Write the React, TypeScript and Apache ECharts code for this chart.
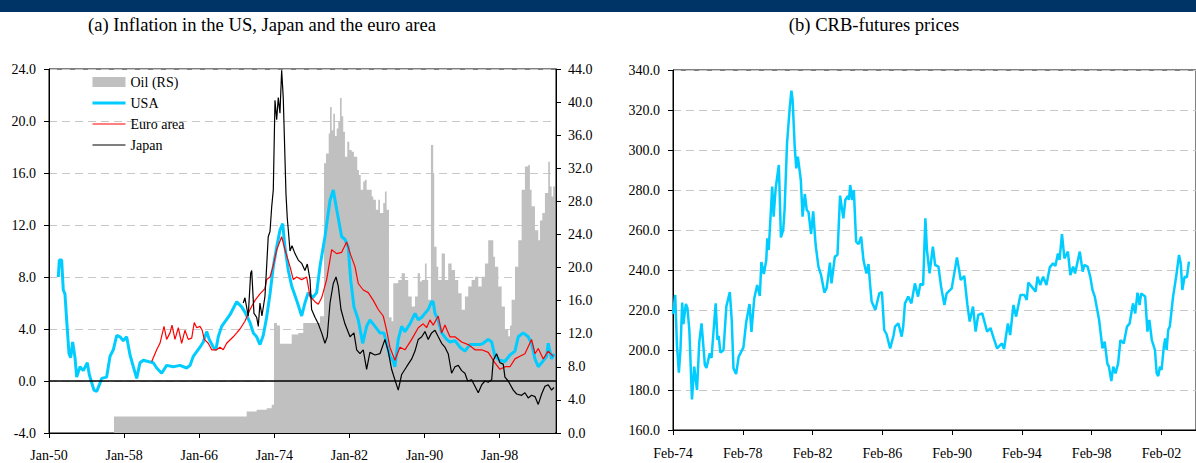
import React, { useEffect, useRef } from 'react';
import * as echarts from 'echarts';

const FONT = 'Liberation Serif';

// [decimal year, oil price] (right scale)
const oilPoints: [number, number][] = [
  [1956.92, 2.0], [1969.6, 2.0], [1971.05, 2.6], [1972.12, 2.8], [1973.18, 3.0], [1973.72, 3.4],
  [1973.96, 13.3], [1974.28, 13.0], [1974.6, 10.8], [1975.45, 10.8], [1975.85, 11.9], [1976.55, 12.1],
  [1977.08, 13.3], [1978.01, 13.3], [1978.86, 14.1], [1979.29, 32.6], [1979.5, 33.8], [1979.79, 36.2],
  [1979.93, 39.4], [1980.11, 36.6], [1980.28, 38.6], [1980.46, 35.9], [1980.64, 36.8], [1980.81, 37.6],
  [1980.99, 40.5], [1981.17, 38.3], [1981.34, 36.4], [1981.52, 33.4], [1981.77, 35.2], [1981.98, 34.2],
  [1982.24, 34.0], [1982.48, 33.4], [1982.83, 31.8], [1983.01, 31.2], [1983.2, 29.4], [1983.47, 30.4],
  [1983.65, 30.6], [1983.83, 29.4], [1984.11, 29.4], [1984.37, 28.6], [1984.54, 28.2], [1984.82, 27.0],
  [1985.07, 28.2], [1985.25, 26.6], [1985.6, 27.8], [1985.78, 29.2], [1985.96, 27.0], [1986.21, 14.0],
  [1986.49, 13.5], [1986.67, 18.1], [1987.03, 18.1], [1987.2, 18.5], [1987.56, 19.3], [1987.91, 18.5],
  [1988.26, 16.5], [1988.63, 15.3], [1988.98, 16.5], [1989.27, 19.3], [1989.51, 18.3], [1989.7, 18.5],
  [1990.04, 20.5], [1990.22, 18.5], [1990.39, 16.1], [1990.68, 34.8], [1990.82, 34.8], [1990.92, 31.4],
  [1991.03, 22.5], [1991.28, 20.1], [1991.46, 18.5], [1991.82, 21.7], [1992.17, 18.5], [1992.52, 20.5],
  [1992.88, 19.7], [1993.24, 18.5], [1993.59, 16.9], [1993.95, 14.9], [1994.3, 16.5], [1994.65, 17.7],
  [1995.01, 18.5], [1995.37, 18.9], [1995.72, 17.7], [1996.08, 18.9], [1996.43, 20.5], [1996.78, 23.3],
  [1997.07, 23.3], [1997.32, 21.3], [1997.5, 20.1], [1997.85, 17.7], [1998.21, 15.3], [1998.56, 12.5],
  [1998.91, 11.7], [1999.1, 13.0], [1999.27, 16.1], [1999.63, 20.1], [1999.98, 23.3], [2000.34, 29.4],
  [2000.69, 32.2], [2001.04, 32.4], [2001.22, 29.4], [2001.4, 27.4], [2001.76, 24.5], [2002.11, 23.3],
  [2002.29, 25.7], [2002.54, 26.6], [2002.82, 29.0], [2003.17, 32.8], [2003.35, 29.8], [2003.53, 28.6],
  [2003.7, 29.8], [2003.89, 28.6],
];

// [decimal year, inflation %]
const usaPoints: [number, number][] = [
  [1950.99, 8.0], [1951.1, 9.3], [1951.35, 9.3], [1951.52, 7.0], [1951.7, 6.7], [1951.88, 4.7],
  [1952.13, 2.1], [1952.31, 1.8], [1952.52, 3.0], [1952.77, 1.8], [1952.95, 0.3], [1953.3, 1.1],
  [1953.65, 0.8], [1954.08, 1.4], [1954.29, 0.5], [1954.79, -0.7], [1955.08, -0.8], [1955.36, -0.3],
  [1955.61, 0.2], [1956.14, 0.3], [1956.5, 1.9], [1956.85, 2.4], [1957.21, 3.5], [1957.56, 3.4],
  [1957.91, 3.1], [1958.27, 3.4], [1958.63, 2.0], [1958.98, 1.1], [1959.34, 0.2], [1959.69, 1.4],
  [1960.04, 1.6], [1960.57, 1.5], [1961.11, 1.4], [1961.47, 1.0], [1962.0, 0.6], [1962.53, 1.2],
  [1963.24, 1.1], [1963.95, 1.2], [1964.66, 1.0], [1965.02, 1.2], [1965.37, 1.9], [1966.08, 2.6],
  [1966.43, 3.0], [1966.79, 3.8], [1967.07, 3.2], [1967.5, 2.6], [1967.78, 2.4], [1968.03, 3.4],
  [1968.39, 4.2], [1969.28, 5.1], [1969.99, 6.1], [1970.52, 5.7], [1970.87, 5.3], [1971.41, 4.5],
  [1971.76, 3.7], [1972.12, 3.4], [1972.47, 2.8], [1972.82, 3.5], [1973.18, 4.9], [1973.54, 6.7],
  [1973.89, 8.8], [1974.25, 10.3], [1974.6, 11.6], [1974.89, 12.1], [1975.13, 10.3], [1975.49, 8.5],
  [1975.85, 7.3], [1976.38, 6.2], [1976.91, 5.0], [1977.26, 6.0], [1977.61, 6.8], [1978.08, 6.4],
  [1978.51, 6.8], [1978.86, 8.8], [1979.39, 11.1], [1979.93, 13.9], [1980.28, 14.7], [1980.64, 13.2],
  [1981.17, 11.1], [1981.52, 10.9], [1981.87, 10.3], [1982.13, 7.8], [1982.48, 5.7], [1982.94, 4.7],
  [1983.41, 2.9], [1983.83, 4.2], [1984.18, 4.7], [1984.72, 4.2], [1985.25, 3.7], [1985.67, 3.7],
  [1985.96, 2.9], [1986.31, 1.9], [1986.67, 1.5], [1986.84, 1.1], [1987.2, 3.2], [1987.56, 4.2],
  [1987.91, 3.8], [1988.45, 4.4], [1988.98, 5.2], [1989.33, 4.7], [1989.7, 4.9], [1990.04, 5.2],
  [1990.39, 5.5], [1990.75, 6.1], [1990.92, 6.1], [1991.11, 5.2], [1991.39, 4.8], [1991.82, 3.7],
  [1992.35, 3.2], [1992.7, 3.0], [1993.24, 3.1], [1993.77, 2.6], [1994.3, 2.3], [1994.84, 2.8],
  [1995.37, 2.8], [1995.9, 2.8], [1996.25, 2.9], [1996.78, 3.2], [1997.15, 3.0], [1997.5, 1.9],
  [1998.03, 1.6], [1998.56, 1.5], [1999.1, 2.0], [1999.63, 2.3], [1999.98, 3.4], [2000.51, 3.7],
  [2001.04, 3.4], [2001.4, 2.9], [2001.76, 1.7], [2002.11, 1.1], [2002.47, 1.4], [2003.0, 1.9],
  [2003.17, 2.9], [2003.53, 1.7], [2003.81, 2.1],
];

const euroPoints: [number, number][] = [
  [1960.94, 1.5], [1961.47, 2.4], [1961.82, 2.9], [1962.25, 4.2], [1962.53, 3.2], [1962.89, 3.7],
  [1963.1, 4.3], [1963.42, 3.2], [1963.77, 4.1], [1964.13, 2.9], [1964.48, 3.9], [1964.83, 3.2],
  [1965.2, 3.3], [1965.47, 4.5], [1965.73, 4.1], [1966.08, 4.2], [1966.32, 3.9], [1966.54, 3.2],
  [1966.96, 2.9], [1967.33, 2.4], [1967.86, 2.4], [1968.21, 2.6], [1968.56, 2.4], [1968.92, 2.9],
  [1969.63, 3.4], [1969.99, 3.7], [1970.34, 4.0], [1970.87, 4.6], [1971.41, 5.5], [1971.94, 6.2],
  [1972.47, 6.7], [1973.0, 7.1], [1973.18, 7.8], [1973.54, 8.0], [1973.89, 8.9], [1974.25, 10.1],
  [1974.78, 11.1], [1975.13, 10.1], [1975.67, 8.8], [1976.02, 7.8], [1976.38, 8.0], [1976.91, 7.8],
  [1977.44, 8.0], [1977.8, 6.5], [1978.33, 6.1], [1978.68, 5.9], [1979.04, 6.4], [1979.57, 7.8],
  [1980.11, 10.1], [1980.64, 9.8], [1981.17, 9.9], [1981.7, 10.7], [1982.13, 9.7], [1982.59, 8.8],
  [1982.94, 7.5], [1983.47, 7.0], [1984.0, 6.8], [1984.54, 6.2], [1985.07, 5.5], [1985.6, 5.0],
  [1985.96, 3.9], [1986.31, 2.6], [1986.84, 1.6], [1987.38, 2.6], [1987.91, 2.4], [1988.63, 3.2],
  [1989.33, 4.1], [1989.86, 4.4], [1990.22, 4.1], [1990.57, 4.7], [1990.92, 4.3], [1991.46, 5.0],
  [1991.82, 3.7], [1992.17, 4.3], [1992.7, 3.4], [1993.24, 3.4], [1993.95, 3.0], [1994.65, 2.8],
  [1995.37, 2.4], [1996.08, 2.4], [1996.78, 2.2], [1997.5, 1.4], [1998.03, 0.9], [1998.56, 1.1],
  [1999.1, 1.1], [1999.63, 1.7], [2000.16, 1.9], [2000.69, 2.1], [2001.4, 3.2], [2001.76, 2.1],
  [2002.11, 2.5], [2002.64, 1.7], [2003.17, 2.3], [2003.7, 1.9],
];

const japanPoints: [number, number][] = [
  [1970.69, 6.0], [1970.87, 6.4], [1971.22, 5.0], [1971.48, 8.3], [1971.59, 8.5], [1971.83, 5.2],
  [1972.12, 4.9], [1972.29, 4.2], [1972.47, 6.0], [1972.68, 5.0], [1973.0, 6.5], [1973.18, 8.8],
  [1973.35, 11.1], [1973.54, 11.5], [1973.72, 13.4], [1973.89, 14.7], [1974.07, 21.6], [1974.25, 20.1],
  [1974.42, 21.8], [1974.6, 20.6], [1974.78, 23.9], [1974.95, 21.8], [1975.24, 14.4], [1975.38, 12.5],
  [1975.49, 11.6], [1975.67, 10.0], [1975.88, 10.4], [1976.2, 9.8], [1976.55, 9.3], [1976.91, 9.05],
  [1977.26, 8.5], [1977.51, 9.0], [1977.8, 7.8], [1977.97, 5.5], [1978.33, 4.9], [1978.68, 4.4],
  [1979.04, 3.7], [1979.39, 2.9], [1979.64, 3.4], [1979.93, 6.0], [1980.28, 7.5], [1980.57, 8.0],
  [1980.81, 7.3], [1981.1, 5.5], [1981.52, 4.4], [1982.06, 3.4], [1982.48, 3.7], [1982.77, 2.4],
  [1983.12, 2.1], [1983.47, 2.4], [1983.83, 0.9], [1984.18, 2.2], [1984.72, 2.0], [1985.25, 2.1],
  [1985.78, 3.2], [1986.13, 2.3], [1986.49, 0.9], [1986.84, 0.1], [1987.2, -0.7], [1987.56, 0.5],
  [1988.09, 1.1], [1988.63, 1.7], [1988.98, 2.3], [1989.33, 3.2], [1989.7, 3.4], [1990.04, 3.8],
  [1990.39, 3.2], [1990.75, 3.7], [1991.11, 3.9], [1991.46, 3.4], [1991.82, 2.9], [1992.17, 2.6],
  [1992.52, 2.1], [1992.88, 0.6], [1993.24, 1.1], [1993.59, 1.2], [1993.95, 0.8], [1994.3, 0.6],
  [1994.59, 0.0], [1995.01, 0.1], [1995.37, -0.4], [1995.72, -0.9], [1996.08, -0.3], [1996.43, 0.0],
  [1996.78, -0.1], [1997.15, 0.1], [1997.32, 1.6], [1997.67, 2.1], [1998.03, 1.4], [1998.38, 1.3],
  [1998.56, 0.3], [1998.91, 0.0], [1999.45, -0.7], [1999.81, -1.0], [2000.34, -1.1], [2000.69, -0.9],
  [2001.04, -1.3], [2001.4, -1.1], [2001.76, -1.2], [2002.11, -1.8], [2002.47, -1.0], [2002.82, -0.4],
  [2003.17, -0.3], [2003.53, -0.7], [2003.78, -0.5],
];

// [decimal year, CRB futures index]
const crbPoints: [number, number][] = [
  [1974.08, 218], [1974.21, 227.5], [1974.31, 202.5], [1974.42, 188.7], [1974.51, 200], [1974.61, 223.7],
  [1974.68, 213], [1974.82, 223], [1974.91, 221], [1975.02, 210], [1975.17, 175.3], [1975.3, 191.7],
  [1975.46, 180], [1975.59, 204], [1975.72, 213.3], [1975.91, 192.5], [1976.0, 191], [1976.19, 198.3],
  [1976.29, 196], [1976.53, 223.3], [1976.63, 205], [1976.7, 207], [1976.8, 198.7], [1976.98, 200],
  [1977.14, 221.7], [1977.34, 229], [1977.45, 215], [1977.55, 190.8], [1977.7, 188], [1977.85, 196.7],
  [1978.12, 201.3], [1978.28, 214], [1978.47, 223], [1978.58, 209], [1978.74, 225.8], [1978.91, 232.5],
  [1979.06, 227], [1979.15, 244], [1979.29, 238], [1979.43, 245], [1979.49, 255.8], [1979.57, 250],
  [1979.77, 281.7], [1979.85, 266.7], [1979.97, 281], [1980.15, 292.5], [1980.27, 256.3], [1980.4, 260],
  [1980.48, 270], [1980.62, 303.3], [1980.78, 321.7], [1980.87, 329.7], [1980.94, 325], [1981.06, 301.7],
  [1981.15, 290.8], [1981.24, 296.7], [1981.41, 285], [1981.51, 266.7], [1981.64, 278], [1981.75, 270],
  [1981.85, 269], [1982.0, 258], [1982.12, 269.3], [1982.26, 252.5], [1982.42, 241.7], [1982.57, 237.5],
  [1982.76, 228.7], [1982.89, 231], [1982.98, 236.7], [1983.08, 243.7], [1983.17, 233.3], [1983.36, 246.7],
  [1983.51, 247.5], [1983.66, 277.2], [1983.85, 265.8], [1983.96, 275], [1984.11, 277], [1984.17, 275],
  [1984.24, 282.5], [1984.36, 275], [1984.45, 280], [1984.58, 254.2], [1984.72, 253], [1984.87, 256.7],
  [1985.0, 245], [1985.17, 238.3], [1985.29, 243], [1985.38, 233], [1985.47, 224.2], [1985.68, 220],
  [1985.91, 228.3], [1986.06, 229], [1986.19, 210], [1986.32, 208], [1986.53, 200.8], [1986.72, 207],
  [1986.81, 211.7], [1987.0, 213.3], [1987.1, 210], [1987.19, 206.7], [1987.28, 211.7], [1987.38, 223.3],
  [1987.57, 226.7], [1987.75, 223.3], [1987.95, 233.3], [1988.13, 226.7], [1988.26, 233], [1988.42, 232.5],
  [1988.55, 265.8], [1988.64, 250], [1988.79, 238.3], [1988.98, 251.7], [1989.11, 242.5], [1989.3, 241.7],
  [1989.45, 231.7], [1989.64, 222.5], [1989.77, 228.3], [1990.06, 230.8], [1990.36, 246.3], [1990.58, 235],
  [1990.78, 237], [1990.96, 222.5], [1991.09, 214.2], [1991.28, 221.7], [1991.43, 209.2], [1991.58, 217.5],
  [1991.81, 218.3], [1992.09, 209.2], [1992.28, 211], [1992.47, 205.8], [1992.66, 200.8], [1992.94, 203.3],
  [1993.06, 200.5], [1993.28, 213.3], [1993.41, 207.5], [1993.6, 222.5], [1993.75, 216.7], [1994.0, 227.5],
  [1994.23, 227.5], [1994.36, 225], [1994.45, 233.7], [1994.64, 231.7], [1994.87, 229.2], [1994.98, 236.7],
  [1995.13, 232.5], [1995.3, 236.7], [1995.49, 232.5], [1995.68, 241.3], [1995.87, 243.3], [1996.0, 242],
  [1996.15, 248.3], [1996.24, 245], [1996.38, 258], [1996.52, 245.8], [1996.72, 249.2], [1996.86, 237.5],
  [1997.02, 241.7], [1997.13, 238.3], [1997.4, 249.2], [1997.57, 239.2], [1997.66, 242.5], [1997.85, 241.7],
  [1998.0, 236.7], [1998.13, 230], [1998.26, 226.7], [1998.51, 215], [1998.7, 200.8], [1998.83, 204.2],
  [1998.98, 193.3], [1999.07, 191.7], [1999.21, 184.5], [1999.32, 191.7], [1999.45, 188.3], [1999.6, 193.3],
  [1999.73, 205], [1999.92, 203.3], [2000.11, 211.7], [2000.26, 213.3], [2000.45, 223.3], [2000.58, 218.3],
  [2000.71, 228.7], [2000.83, 222.5], [2000.92, 228.3], [2001.15, 226.7], [2001.28, 209.2], [2001.39, 215],
  [2001.53, 205], [2001.71, 200], [2001.81, 188.3], [2001.9, 187], [2002.0, 191.7], [2002.09, 190],
  [2002.22, 201.7], [2002.3, 205.8], [2002.38, 200], [2002.47, 210], [2002.56, 211.7], [2002.75, 226.7],
  [2002.94, 237.5], [2003.09, 247.5], [2003.19, 243.3], [2003.28, 230], [2003.41, 236.7], [2003.54, 236.3],
  [2003.66, 244.2],
];

const leftTickOffsets = [0, 8, 16, 24, 32, 40, 48]; // years after Jan-50
const rightTickOffsets = [0, 4, 8, 12, 16, 20, 24, 28]; // years after Feb-74

const LEFT_ORIGIN = 1950;
const RIGHT_ORIGIN = 1974 + 1 / 12;

const titleA = '(a) Inflation in the US, Japan and the euro area';
const titleB = '(b) CRB-futures prices';

export default function App() {
  const ref = useRef<HTMLDivElement>(null);

  useEffect(() => {
    if (!ref.current) return;
    const chart = echarts.init(ref.current, null, { renderer: 'svg' });
    const pad = (n: number) => String(((n % 100) + 100) % 100).padStart(2, '0');
    const toLeft = (p: [number, number]) => [p[0] - LEFT_ORIGIN, p[1]];
    const toRight = (p: [number, number]) => [p[0] - RIGHT_ORIGIN, p[1]];
    const labelStyle = { color: '#000', fontSize: 14, fontFamily: FONT };
    const axisLineStyle = { color: '#000', width: 1 };
    const hiddenSymbol = { opacity: 0 };

    const option: any = {
      animation: false,
      backgroundColor: '#fff',
      textStyle: { fontFamily: FONT },
      graphic: [
        { type: 'rect', silent: true, shape: { x: 0, y: 0, width: 1196, height: 12 }, style: { fill: '#003366' } },
        {
          type: 'text', silent: true, x: 262, y: 24,
          style: { text: titleA, fill: '#000', fontSize: 18.6, fontFamily: FONT, align: 'center', verticalAlign: 'middle' },
        },
        {
          type: 'text', silent: true, x: 874, y: 24,
          style: { text: titleB, fill: '#000', fontSize: 18.6, fontFamily: FONT, align: 'center', verticalAlign: 'middle' },
        },
      ],
      legend: {
        left: 91, top: 75, orient: 'vertical', padding: 0,
        itemWidth: 33, itemHeight: 10, itemGap: 7,
        textStyle: { color: '#000', fontSize: 14, fontFamily: FONT },
        selectedMode: false,
        data: [
          { name: 'Oil (RS)', icon: 'rect' },
          { name: 'USA', itemStyle: hiddenSymbol, lineStyle: { width: 3 } },
          { name: 'Euro area', itemStyle: hiddenSymbol, lineStyle: { width: 1.2 } },
          { name: 'Japan', itemStyle: hiddenSymbol, lineStyle: { width: 1.2 } },
        ],
      },
      grid: [
        { left: 49, top: 69, width: 507, height: 364, show: true, borderColor: '#000', borderWidth: 1, backgroundColor: 'transparent' },
        { left: 673, top: 70, width: 532, height: 360, show: true, borderColor: '#000', borderWidth: 1, backgroundColor: 'transparent' },
      ],
      xAxis: [
        {
          gridIndex: 0, type: 'value', min: 0, max: 54, interval: 8,
          axisLine: { onZero: false, lineStyle: axisLineStyle },
          axisTick: { length: 5, lineStyle: axisLineStyle, customValues: leftTickOffsets },
          axisLabel: { ...labelStyle, margin: 15, customValues: leftTickOffsets, formatter: (v: number) => 'Jan-' + pad(50 + Math.round(v)) },
          splitLine: { show: false },
        },
        {
          gridIndex: 1, type: 'value', min: 0, max: 29.98, interval: 4,
          axisLine: { onZero: false, lineStyle: axisLineStyle },
          axisTick: { length: 5, lineStyle: axisLineStyle, customValues: rightTickOffsets },
          axisLabel: { ...labelStyle, margin: 16, customValues: rightTickOffsets, formatter: (v: number) => 'Feb-' + pad(74 + Math.round(v)) },
          splitLine: { show: false },
        },
      ],
      yAxis: [
        {
          gridIndex: 0, type: 'value', min: -4, max: 24, interval: 4, position: 'left',
          axisLine: { show: true, lineStyle: axisLineStyle },
          axisTick: { show: true, length: 5, lineStyle: axisLineStyle },
          axisLabel: { ...labelStyle, margin: 13, formatter: (v: number) => v.toFixed(1) },
          splitLine: { show: true, lineStyle: { color: '#c8c8c8', width: 1, type: [8, 5] } },
        },
        {
          gridIndex: 0, type: 'value', min: 0, max: 44, interval: 4, position: 'right',
          axisLine: { show: true, lineStyle: axisLineStyle },
          axisTick: { show: true, length: 5, lineStyle: axisLineStyle },
          axisLabel: { ...labelStyle, margin: 12, formatter: (v: number) => v.toFixed(1) },
          splitLine: { show: false },
        },
        {
          gridIndex: 1, type: 'value', min: 160, max: 340, interval: 20, position: 'left',
          axisLine: { show: true, lineStyle: axisLineStyle },
          axisTick: { show: true, length: 5, lineStyle: axisLineStyle },
          axisLabel: { ...labelStyle, margin: 13, formatter: (v: number) => v.toFixed(1) },
          splitLine: { show: true, lineStyle: { color: '#c8c8c8', width: 1, type: [8, 5] } },
        },
      ],
      series: [
        {
          name: 'Oil (RS)', type: 'line', xAxisIndex: 0, yAxisIndex: 1, step: 'end', symbol: 'none',
          lineStyle: { width: 0, color: '#c0c0c0' }, itemStyle: { color: '#c0c0c0' },
          areaStyle: { color: '#c0c0c0', opacity: 1 }, z: 1, silent: true,
          data: oilPoints.map(toLeft),
        },
        {
          name: 'USA', type: 'line', xAxisIndex: 0, yAxisIndex: 0, symbol: 'none',
          lineStyle: { width: 3, color: '#00ccff' }, itemStyle: { color: '#00ccff' }, z: 3, silent: true,
          data: usaPoints.map(toLeft),
        },
        {
          name: 'Euro area', type: 'line', xAxisIndex: 0, yAxisIndex: 0, symbol: 'none',
          lineStyle: { width: 1.2, color: '#ff0000' }, itemStyle: { color: '#ff0000' }, z: 4, silent: true,
          data: euroPoints.map(toLeft),
        },
        {
          name: 'Japan', type: 'line', xAxisIndex: 0, yAxisIndex: 0, symbol: 'none',
          lineStyle: { width: 1.2, color: '#000' }, itemStyle: { color: '#000' }, z: 5, silent: true,
          data: japanPoints.map(toLeft),
          markLine: {
            silent: true, symbol: 'none', label: { show: false },
            lineStyle: { color: '#000', width: 1.5, type: 'solid' },
            data: [{ yAxis: 0 }],
          },
        },
        {
          name: 'CRB', type: 'line', xAxisIndex: 1, yAxisIndex: 2, symbol: 'none',
          lineStyle: { width: 2.5, color: '#00ccff' }, itemStyle: { color: '#00ccff' }, z: 3, silent: true,
          data: crbPoints.map(toRight),
        },
      ],
    };

    chart.setOption(option);
    return () => chart.dispose();
  }, []);

  return <div ref={ref} style={{ position: 'absolute', left: 0, top: 0, width: 1196, height: 463 }} />;
}
